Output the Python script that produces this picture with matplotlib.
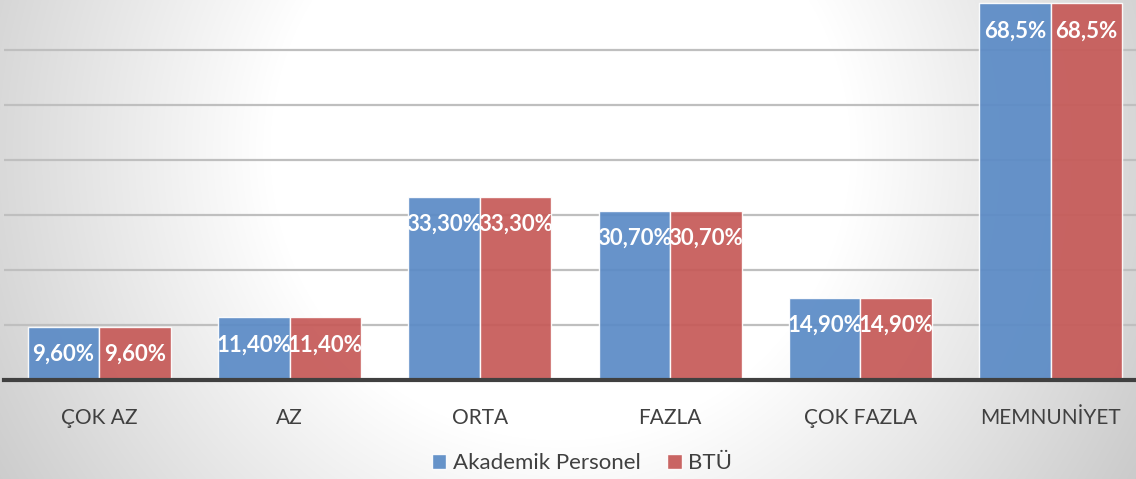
import numpy as np
import matplotlib
matplotlib.use("Agg")
import matplotlib.pyplot as plt

categories = ["ÇOK AZ", "AZ", "ORTA", "FAZLA", "ÇOK FAZLA", "MEMNUNİYET"]
akademik = [9.6, 11.4, 33.3, 30.7, 14.9, 68.5]
btu = [9.6, 11.4, 33.3, 30.7, 14.9, 68.5]
akademik_labels = ["9,60%", "11,40%", "33,30%", "30,70%", "14,90%", "68,5%"]
btu_labels = ["9,60%", "11,40%", "33,30%", "30,70%", "14,90%", "68,5%"]
series_names = ["Akademik Personel", "BTÜ"]

W, H = 1136, 479
fig = plt.figure(figsize=(W / 100, H / 100), dpi=100)

# radial gradient background
bg = fig.add_axes([0, 0, 1, 1], zorder=-10)
yy, xx = np.mgrid[0:H, 0:W]
d = np.sqrt(((xx - 560) / 1.0) ** 2 + ((yy - 150) / 1.0) ** 2)
v = 255 - 0.14 * np.clip(d - 290, 0, None)
v = np.clip(v, 195, 255) / 255.0
img = np.dstack([v, v, v])
bg.imshow(img, aspect="auto", extent=[0, W, H, 0])
bg.set_axis_off()

baseline_y = 379.7
px_per_unit = 5.5
ax_left = 4 / W
ax_w = 1142 / W
ax_bottom = (H - baseline_y) / H
ax_h = baseline_y / H
ax = fig.add_axes([ax_left, ax_bottom, ax_w, ax_h])
ax.set_facecolor("none")
ax.set_xlim(-0.5, 5.5)
ax.set_ylim(0, baseline_y / px_per_unit)

x = np.arange(len(categories))
bw = 0.375
blue = "#5b8bc6"
red = "#c65a58"
b1 = ax.bar(x - bw / 2, akademik, bw, color=blue, alpha=0.93,
            edgecolor=(1, 1, 1, 0.45), linewidth=1.0, zorder=3, label=series_names[0])
b2 = ax.bar(x + bw / 2, btu, bw, color=red, alpha=0.93,
            edgecolor=(1, 1, 1, 0.45), linewidth=1.0, zorder=3, label=series_names[1])

for xs, vals, labs in [(x - bw / 2, akademik, akademik_labels), (x + bw / 2, btu, btu_labels)]:
    for xi, vi, li in zip(xs, vals, labs):
        ax.annotate(li, (xi, vi), xytext=(0, -20), textcoords="offset points",
                    ha="center", va="center", color="white", fontsize=16,
                    fontweight="bold", family="Lato", zorder=5)

ax.set_yticks([10, 20, 30, 40, 50, 60])
ax.yaxis.grid(True, color="#bfbfbf", linewidth=1.6, zorder=0)
ax.set_axisbelow(True)
ax.tick_params(axis="y", left=False, labelleft=False)
ax.tick_params(axis="x", bottom=False, pad=17)
ax.set_xticks(x)
ax.set_xticklabels(categories, fontsize=15, color="#404040", family="Lato")
for s in ["top", "right", "left"]:
    ax.spines[s].set_visible(False)
ax.spines["bottom"].set_color("#404040")
ax.spines["bottom"].set_linewidth(3)
ax.spines["bottom"].set_zorder(6)

leg = fig.legend(handles=[b1, b2], labels=series_names, loc="center",
                 bbox_to_anchor=(582 / W, (H - 463) / H), ncol=2, frameon=False,
                 prop={"family": "Lato", "size": 16}, labelcolor="#404040",
                 handlelength=0.65, handleheight=0.65, handletextpad=0.3, columnspacing=1.2)

fig.savefig("out.png", dpi=100)
